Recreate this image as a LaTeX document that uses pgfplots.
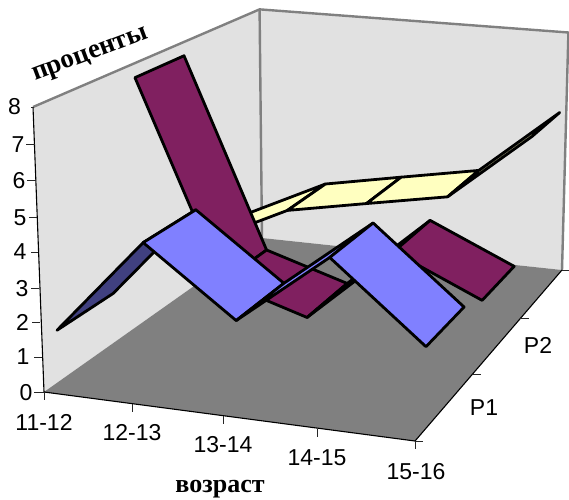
\documentclass[border=0pt]{standalone}
\usepackage{fontspec}
\setmainfont{Liberation Sans}
\newfontfamily\titlefont{Liberation Serif}
\usepackage{pgfplots}
\pgfplotsset{compat=1.18}

\definecolor{wallgray}{HTML}{E1E1E1}
\definecolor{floorgray}{HTML}{808080}
\definecolor{bandone}{HTML}{8080FF}
\definecolor{bandonedark}{HTML}{404080}
\definecolor{bandtwo}{HTML}{802060}
\definecolor{bandthree}{HTML}{FFFFC0}

% Perspective view of the box: category c = 0..4, series depth s = 0..3, percent z = 0..8
\tikzset{
  declare function={
    viewden(\c,\s,\z)=1-0.0505*\c/4+0.2614*\s/3-0.035*\z/8;
    viewx(\c,\s,\z)=(350.04*\c/4+286.49*\s/3+44-12.15*\z/8)/viewden(\c,\s,\z);
    viewy(\c,\s,\z)=(26.73*\c/4-91.79*\s/3+392-288.74*\z/8)/viewden(\c,\s,\z);
  }
}
\pgfplotsset{
  /pgfplots/table/view table/.style={
    /pgfplots/table/x expr={viewx(\thisrow{c},\thisrow{s},\thisrow{z})},
    /pgfplots/table/y expr={viewy(\thisrow{c},\thisrow{s},\thisrow{z})},
    /pgfplots/table/row sep=\\
  },
  ribbon/.style={draw=black,line width=2.8pt,line join=round,mark=none}
}

% One ribbon segment: colour, front depth, back depth, left category and value, right category and value
\newcommand{\strip}[7]{%
  \addplot[ribbon,fill=#1] table[view table]{
    c s z\\ #4 #2 #5\\ #6 #2 #7\\ #6 #3 #7\\ #4 #3 #5\\
  } -- cycle;
}
\newcommand{\tickmark}[4]{\draw[black!85,line width=1pt] (axis cs:#1,#2)--(axis cs:#3,#4);}
\newcommand{\ticktext}[3]{\node[font=\fontsize{23}{26}\selectfont,inner sep=0pt] at (axis cs:#1,#2) {#3};}

\begin{document}
\begin{tikzpicture}
\begin{axis}[
  at={(0,0)},anchor=south west,
  scale only axis,width=569pt,height=499pt,
  xmin=0,xmax=569,ymin=0,ymax=499,y dir=reverse,
  hide axis,clip=false
]
% side walls and floor
\addplot[fill=wallgray,draw=none,mark=none] table[view table]{c s z\\ 0 0 0\\ 0 0 8\\ 0 3 8\\ 0 3 0\\} -- cycle;
\addplot[fill=wallgray,draw=none,mark=none] table[view table]{c s z\\ 0 3 0\\ 0 3 8\\ 4 3 8\\ 4 3 0\\} -- cycle;
\addplot[fill=floorgray,draw=none,mark=none] table[view table]{c s z\\ 0 0 0\\ 4 0 0\\ 4 3 0\\ 0 3 0\\} -- cycle;
% wall edges
\addplot[draw=floorgray,line width=2.4pt,mark=none] table[view table]{c s z\\ 0 0 8\\ 0 3 8\\ 4 3 8\\ 4 3 0\\};
\addplot[draw=floorgray,line width=2.4pt,mark=none] table[view table]{c s z\\ 0 3 8\\ 0 3 0\\};
% axes
\addplot[draw=black,line width=1.1pt,mark=none] table[view table]{c s z\\ 0 0 8\\ 0 0 0\\ 4 0 0\\ 4 3 0\\};

% third series, at the back
\strip{bandthree}{2.17}{2.83}{0}{1.17}{1}{2.41}
\strip{bandthree}{2.17}{2.83}{1}{2.41}{2}{2.90}
\strip{bandthree}{2.17}{2.83}{2}{2.90}{3}{3.38}
\strip{bandthree}{2.17}{2.83}{3}{3.38}{4}{5.55}
% P2
\strip{bandtwo}{1.17}{1.83}{0}{7.57}{1}{1.60}
\strip{bandtwo}{1.17}{1.83}{1}{1.60}{2}{0.80}
\strip{bandtwo}{1.17}{1.83}{2}{0.80}{3}{3.10}
\strip{bandtwo}{1.17}{1.83}{3}{3.10}{4}{1.93}
% P1, at the front
\strip{bandonedark}{0.165}{0.825}{0}{1.50}{1}{4.30}
\strip{bandone}{0.165}{0.825}{1}{4.30}{2}{2.40}
\strip{bandone}{0.165}{0.825}{2}{2.40}{3}{4.45}
\strip{bandone}{0.165}{0.825}{3}{4.45}{4}{2.30}

% value axis
\tickmark{31}{107}{33}{107}
\tickmark{26}{144}{35}{144}
\tickmark{27}{180}{36}{180}
\tickmark{29}{217}{37}{217}
\tickmark{31}{252}{38}{252}
\tickmark{31}{288}{39}{288}
\tickmark{32}{322}{40}{322}
\tickmark{34}{357}{42}{357}
\tickmark{34}{392}{44}{392}
\ticktext{14.5}{107}{8}
\ticktext{18}{145}{7}
\ticktext{19}{181}{6}
\ticktext{20}{218}{5}
\ticktext{20}{252}{4}
\ticktext{22}{289}{3}
\ticktext{22.5}{322}{2}
\ticktext{23}{357}{1}
\ticktext{26}{393}{0}
% category axis
\tickmark{44}{392}{44}{400}
\tickmark{132}{404}{132}{412}
\tickmark{223}{416}{223}{424}
\tickmark{317}{429}{317}{437}
\tickmark{415}{441}{415}{449}
\ticktext{44}{422}{11-12}
\ticktext{132}{433}{12-13}
\ticktext{223}{445}{13-14}
\ticktext{317}{458}{14-15}
\ticktext{416}{472}{15-16}
% series axis
\tickmark{415}{441}{423}{441}
\tickmark{473}{374}{481}{374}
\tickmark{520}{318}{529}{318}
\tickmark{562}{270}{569}{270}
\ticktext{484}{408}{P1}
\ticktext{538}{345}{P2}
% axis titles
\node[font=\titlefont\bfseries\fontsize{27}{30}\selectfont,rotate=20.5,inner sep=0pt] at (axis cs:91,56) {проценты};
\node[font=\titlefont\bfseries\fontsize{26}{30}\selectfont,inner sep=0pt] at (axis cs:220,489) {возраст};
\end{axis}
\pgfresetboundingbox
\path (0,0) rectangle (569pt,499pt);
\end{tikzpicture}
\end{document}
